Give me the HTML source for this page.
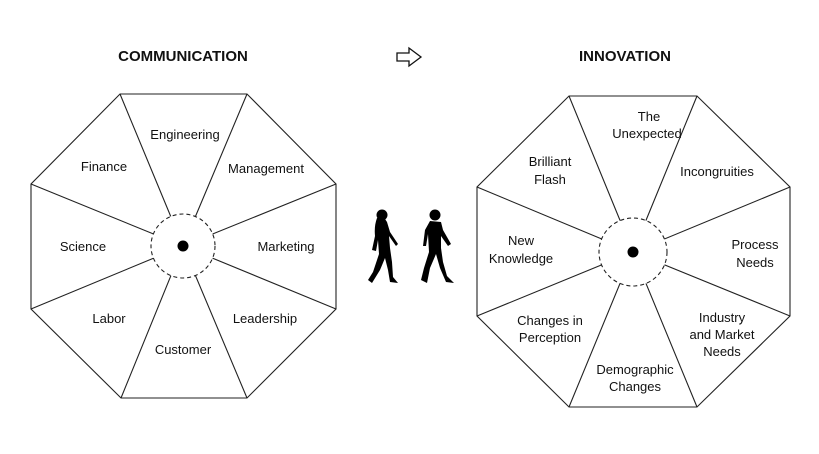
<!DOCTYPE html>
<html><head><meta charset="utf-8"><style>
body{margin:0;background:#fff}
svg text{font-family:"Liberation Sans",Arial,sans-serif;fill:#111}
</style></head><body>
<svg width="819" height="449" viewBox="0 0 819 449" xmlns="http://www.w3.org/2000/svg">
<rect width="819" height="449" fill="#fff"/>
<text x="183" y="61" font-size="15" font-weight="bold" text-anchor="middle">COMMUNICATION</text>
<text x="625" y="61" font-size="15" font-weight="bold" text-anchor="middle">INNOVATION</text>
<path d="M397 53 H409 V48 L421 57 L409 66 V61 H397 Z" fill="none" stroke="#111" stroke-width="1.3" stroke-linejoin="miter"/>
<g stroke="#222" stroke-width="1.1" fill="none">
<polygon points="120,94 247,94 336,184 336,309 247,398 121,398 31,309 31,184"/>
<path d="M183,246 L120,94 M183,246 L247,94 M183,246 L336,184 M183,246 L336,309 M183,246 L247,398 M183,246 L121,398 M183,246 L31,309 M183,246 L31,184"/>
<polygon points="569,96 697,96 790,187 790,316 697,407 569,407 477,316 477,187"/>
<path d="M633,252 L569,96 M633,252 L697,96 M633,252 L790,187 M633,252 L790,316 M633,252 L697,407 M633,252 L569,407 M633,252 L477,316 M633,252 L477,187"/>
</g>
<circle cx="183" cy="246" r="32" fill="#fff" stroke="#222" stroke-width="1.1" stroke-dasharray="4,3"/>
<circle cx="183" cy="246" r="5.5" fill="#000"/>
<circle cx="633" cy="252" r="34" fill="#fff" stroke="#222" stroke-width="1.1" stroke-dasharray="4,3"/>
<circle cx="633" cy="252" r="5.5" fill="#000"/>
<g font-size="13" text-anchor="middle">
<text x="185" y="139">Engineering</text>
<text x="104" y="171">Finance</text>
<text x="266" y="173">Management</text>
<text x="83" y="251">Science</text>
<text x="286" y="251">Marketing</text>
<text x="109" y="323">Labor</text>
<text x="265" y="323">Leadership</text>
<text x="183" y="354">Customer</text>
<text x="649" y="121">The</text>
<text x="647" y="138">Unexpected</text>
<text x="550" y="166">Brilliant</text>
<text x="550" y="184">Flash</text>
<text x="717" y="176">Incongruities</text>
<text x="521" y="245">New</text>
<text x="521" y="263">Knowledge</text>
<text x="755" y="249">Process</text>
<text x="755" y="267">Needs</text>
<text x="550" y="325">Changes in</text>
<text x="550" y="342">Perception</text>
<text x="722" y="322">Industry</text>
<text x="722" y="339">and Market</text>
<text x="722" y="356">Needs</text>
<text x="635" y="374">Demographic</text>
<text x="635" y="391">Changes</text>
</g>
<g fill="#000">
<circle cx="382" cy="215" r="5.5"/>
<path d="M377 218 Q374 226 375 236 L372 250 L376 251 L378 240 L379 254 L373 272 L368 280 L372 283 L380 270 L385 258 L388 270 L390 282 L398 283 L393 277 L392 262 L390 248 L389 236 L396 246 L398 244 L390 232 L387 222 L385 219 Z"/>
<circle cx="435" cy="215" r="5.5"/>
<path d="M430 221 L425 230 L423 246 L426 246 L428 234 L429 252 L424 268 L421 280 L427 283 L430 268 L436 254 L440 268 L446 282 L454 283 L447 276 L443 262 L441 248 L441 236 L448 246 L451 244 L443 230 L441 222 Z"/>
</g>
</svg>
</body></html>
